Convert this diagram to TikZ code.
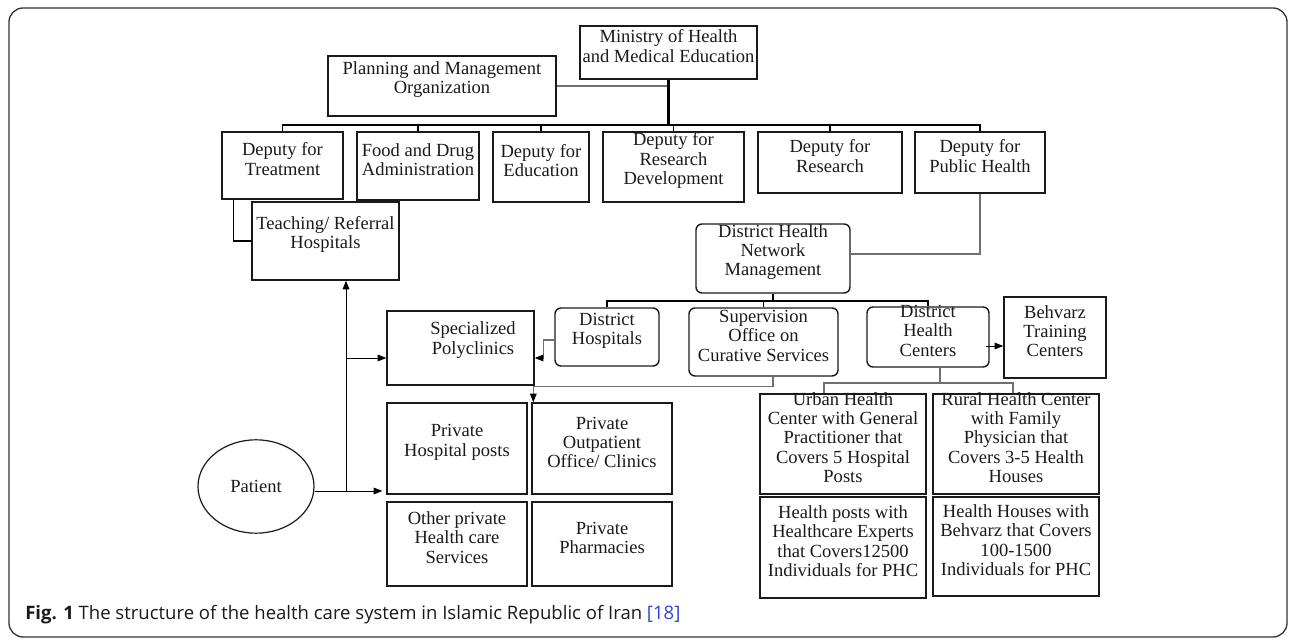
\documentclass[tikz,border=0pt]{standalone}
\usepackage{fontspec}
\setmainfont{Liberation Serif}
\newfontfamily\capfont{Open Sans}
\usetikzlibrary{arrows.meta,fit,calc,shapes.geometric}
\definecolor{ink}{HTML}{1A1A1A}
\definecolor{conngray}{HTML}{707070}
\definecolor{refblue}{RGB}{40,70,220}
\newcommand\boxfont{\fontsize{13.9pt}{14.4pt}\selectfont}
\begin{document}
\begin{tikzpicture}[x=0.75pt,y=-0.75pt,
  box/.style={draw=ink, line width=1.05pt, inner sep=0pt, align=center, font=\boxfont, text=ink},
  rbox/.style={box, rounded corners=4.5pt},
  txt/.style={inner sep=0pt, align=center, font=\boxfont, text=ink},
  bus/.style={draw=black, line width=1.1pt},
  stem/.style={draw=black, line width=1.7pt},
  thin/.style={draw=black, line width=0.8pt},
  gline/.style={draw=conngray, line width=0.8pt},
  arr/.style={draw=black, line width=0.7pt, -{Triangle[length=6.5pt,width=5pt]}},
  garr/.style={draw=conngray, line width=0.8pt, -{Triangle[length=6.5pt,width=5pt,color=black]}}
]
\useasboundingbox (0,0) rectangle (1292,641);
\draw[draw=black!80, line width=1pt, rounded corners=10.5pt] (9,8) rectangle (1287,637);

% top level
\node[box, fit={(580,26) (757,79)}] (min) {Ministry of Health\\and Medical Education};
\node[box, fit={(328,56) (556,116)}] (plan) {Planning and Management\\Organization};

% deputies
\node[box, fit={(222,132) (343,199)}] (treat) {Deputy for\\Treatment};
\node[box, fit={(357,132) (479,200)}] (food) {Food and Drug\\Administration};
\node[box, fit={(493,132) (589,202)}] (edu) {Deputy for\\Education};
\node[box, fit={(603,132) (744,202)}] (rd) {Deputy for\\Research\\Development};
\node[box, fit={(758,132) (902,193)}] (res) {Deputy for\\Research};
\node[box, fit={(915,132) (1045,193)}] (ph) {Deputy for\\Public Health};

\node[box, fit={(252,202) (399,280)}] (teach) {Teaching/ Referral\\Hospitals};
\node[rbox, fit={(696,224) (850,293)}] (dhnm) {District Health\\Network\\Management};

% second level
\node[box, fit={(387,311) (534,385)}] (spec) {};
\node[txt] (spect) at (473,340) {Specialized\\Polyclinics};
\node[rbox, fit={(555,308) (659,366)}] (dh) {District\\Hospitals};
\node[rbox, fit={(689,308) (838,376)}] (sup) {Supervision\\Office on\\Curative Services};
\node[rbox, fit={(867,307) (989,367)}] (dhc) {District\\Health\\Centers};
\node[box, fit={(1004,297) (1106,378)}] (behv) {Behvarz\\Training\\Centers};

% private sector
\node[box, fit={(387,403) (527,494)}] (phos) {Private\\Hospital posts};
\node[box, fit={(532,403) (672,494)}] (pout) {Private\\Outpatient\\Office/ Clinics};
\node[box, fit={(387,502) (527,586)}] (oth) {Other private\\Health care\\Services};
\node[box, fit={(532,502) (672,586)}] (pharm) {Private\\Pharmacies};

% PHC
\node[box, fit={(760,394) (926,494)}] (urban) {Urban Health\\Center with General\\Practitioner that\\Covers 5 Hospital\\Posts};
\node[box, fit={(760,497) (926,598)}] (hpost) {Health posts with\\Healthcare Experts\\that Covers12500\\Individuals for PHC};
\node[box, fit={(933,394) (1099,494)}] (rural) {Rural Health Center\\with Family\\Physician that\\Covers 3-5 Health\\Houses};
\node[box, fit={(933,497) (1099,596)}] (hhouse) {Health Houses with\\Behvarz that Covers\\100-1500\\Individuals for PHC};

% patient
\node[ellipse, draw=ink, line width=0.9pt, minimum width=87pt, minimum height=70pt, inner sep=0pt, font=\boxfont, text=ink] (pat) at (256,486.5) {Patient};

% ---- connectors ----
\coordinate (bus1y) at (0,125);
\draw[gline] (plan.east) -- (plan.east -| min.south);
\draw[bus] (treat.north) |- (ph.north |- bus1y) -- (ph.north);
\foreach \n in {food,edu,rd,res} \draw[bus] (\n.north) -- (\n.north |- bus1y);
\draw[stem] (min.south) -- (min.south |- bus1y);

\draw[thin] ($(treat.south west)+(12,0)$) |- (teach.west);
\draw[gline] (ph.south) |- ($(dhnm.east)+(0,-4.5)$);

\coordinate (bus2y) at (0,301);
\draw[bus] (dh.north) |- (dhc.north |- bus2y) -- (dhc.north);
\draw[bus] (sup.north) -- (sup.north |- bus2y);
\draw[stem] (dhnm.south) -- (dhnm.south |- bus2y);

\draw[garr] ($(dh.west)+(0,3)$) -- ++(-11,0) |- ($(spec.east)+(0,10)$);
\draw[garr] ($(sup.south)+(9.5,0)$) -- ++(0,10) -| ($(pout.north west)+(2,0)$);
\draw[arr] ($(dhc.east)+(-4,9)$) -- ($(behv.west)+(0,8.5)$);

\coordinate (bus3y) at (0,383);
\coordinate (dhcs) at ($(dhc.south)+(12,0)$);
\coordinate (ud) at ($(urban.north)+(-19,0)$);
\coordinate (rdrop) at ($(rural.north)+(-3,0)$);
\draw[gline] (dhcs) -- (dhcs |- bus3y);
\draw[gline] (ud) |- (rdrop |- bus3y) -- (rdrop);

\coordinate (pj) at (346,491);
\coordinate (sj) at (346,358);
\draw[arr] ($(pat.east)+(0,4.5)$) -- ($(phos.west)+(-4,42.5)$);
\draw[arr] (pj) -- ($(teach.south)+(20.5,0)$);
\draw[arr] (sj) -- ($(spec.west)+(0,10)$);

% caption
\node[anchor=base west, inner sep=0pt, font=\capfont\fontsize{13.9pt}{16pt}\selectfont, text=ink] (cap) at (25,619) {\textbf{Fig. 1} The structure of the health care system in Islamic Republic of Iran \textcolor{refblue}{[18]}};
\end{tikzpicture}
\end{document}
